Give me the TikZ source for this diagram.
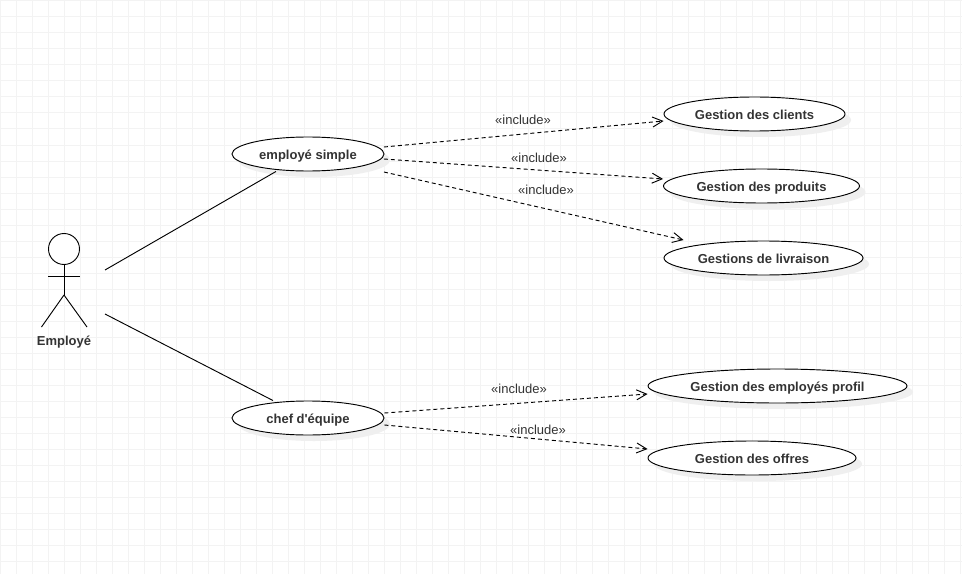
\documentclass[tikz,border=0pt]{standalone}
\usepackage{fontspec}
\setmainfont{Liberation Sans}
\usetikzlibrary{arrows.meta,calc,shapes.geometric}

\definecolor{gridline}{HTML}{F3F3F3}
\definecolor{shadowgray}{HTML}{EFEFEF}
\definecolor{labelgray}{HTML}{333333}

\tikzset{
    usecase/.style={ellipse, draw=black, fill=white, line width=0.7pt, inner sep=0pt,
        minimum height=25.5pt, font=\bfseries\fontsize{9.75pt}{11pt}\selectfont, text=labelgray,
        text height=9.5pt, text depth=1.5pt,
        preaction={fill=shadowgray, draw=none, transform canvas={shift={(4.5pt,-4.5pt)}}}},
    assoc/.style={line width=0.7pt},
    incl/.style={line width=0.7pt, dash pattern=on 3pt off 2.25pt,
        -{Straight Barb[length=7.5pt,width=7.5pt,line width=0.7pt]}},
    inclabel/.style={font=\fontsize{9.75pt}{11pt}\selectfont, text=labelgray, inner sep=0pt,
        text height=9pt, text depth=2pt},
    limb/.style={line width=0.7pt}
}

\begin{document}
\begin{tikzpicture}[x=0.75pt, y=-0.75pt]
    \useasboundingbox (0, 0) rectangle (962, 574);
    \fill[white] (0, 0) rectangle (962, 574);

    % background grid
    \foreach \gx in {0, 16, ..., 960}
        \draw[gridline, line width=0.75pt] (\gx + 0.5, 0) -- (\gx + 0.5, 574);
    \foreach \gy in {0, 16, ..., 572}
        \draw[gridline, line width=0.75pt] (0, \gy + 1) -- (962, \gy + 1);

    % actor
    \node[circle, draw=black, fill=white, line width=0.7pt, minimum size=23.25pt, inner sep=0pt] (head) at (64, 249) {};
    \coordinate (hip) at (64, 295);
    \draw[limb] (head.south) -- (hip);
    \draw[limb] (48, 276) -- (80, 276);
    \draw[limb] (hip) -- (41.5, 327);
    \draw[limb] (hip) -- (87, 327);
    \node[font=\bfseries\fontsize{9.75pt}{11pt}\selectfont, text=labelgray, inner sep=0pt, text height=9.5pt, text depth=1.5pt] (employe) at (64, 340) {Employé};
    \coordinate (actor) at (105, 292);

    % use cases
    \node[usecase, minimum width=114pt] (simple) at (308, 154) {employé simple};
    \node[usecase, minimum width=114pt] (chef) at (308, 418) {chef d\textquotesingle équipe};
    \node[usecase, minimum width=135.75pt] (clients) at (754.5, 114) {Gestion des clients};
    \node[usecase, minimum width=147pt] (produits) at (761.5, 186) {Gestion des produits};
    \node[usecase, minimum width=149.25pt] (livraison) at (763.5, 258) {Gestions de livraison};
    \node[usecase, minimum width=194.25pt] (profil) at (777.5, 386) {Gestion des employés profil};
    \node[usecase, minimum width=156pt] (offres) at (752, 458) {Gestion des offres};

    % associations
    \draw[assoc] ($(actor) + (0, -22)$) -- ($(simple.south) + (-32, 0)$);
    \draw[assoc] ($(actor) + (0, 22)$) -- ($(chef.north) + (-35, 0)$);

    % includes
    \draw[incl] ($(simple.east) + (-0.5, -7)$) -- ($(clients.west) + (0, 7)$);
    \draw[incl] ($(simple.east) + (-0.5, 5)$) -- ($(produits.west) + (0, -7)$);
    \draw[incl] ($(simple.east) + (-0.5, 18)$) -- ($(livraison.west) + (20, -18)$);
    \draw[incl] ($(chef.east) + (0, -5)$) -- ($(profil.west) + (0, 8)$);
    \draw[incl] ($(chef.east) + (0, 7)$) -- ($(offres.west) + (0, -9)$);

    \node[inclabel] (lclients) at (523, 120) {«include»};
    \node[inclabel] (lproduits) at (539, 158) {«include»};
    \node[inclabel] (llivraison) at (546, 190) {«include»};
    \node[inclabel] (lprofil) at (519, 389) {«include»};
    \node[inclabel] (loffres) at (538, 430) {«include»};
\end{tikzpicture}
\end{document}
